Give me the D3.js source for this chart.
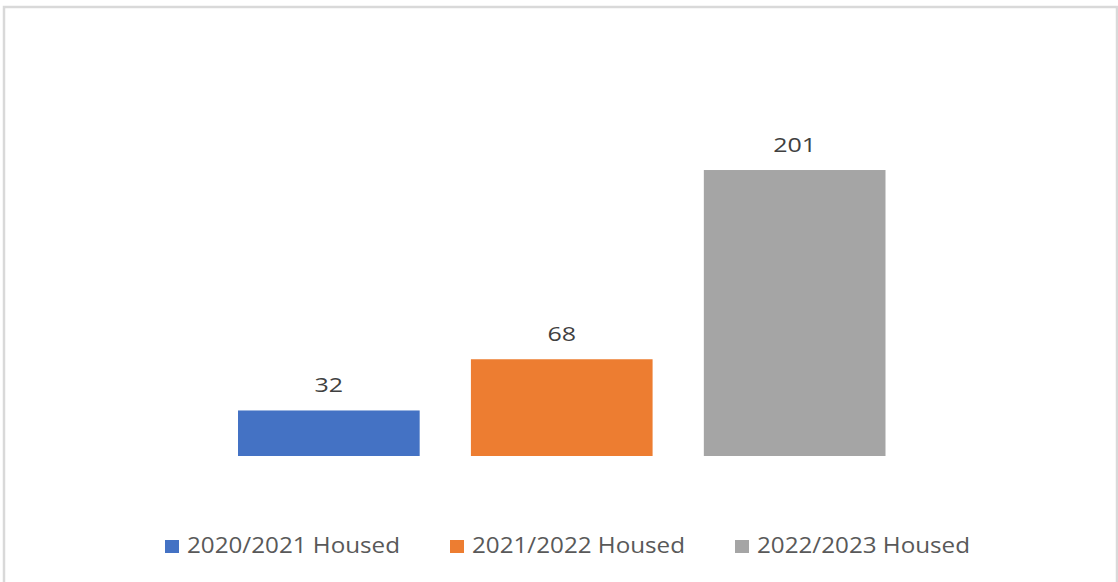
<!DOCTYPE html>
<html>
<head>
<meta charset="utf-8">
<script src="https://cdn.jsdelivr.net/npm/d3@7"></script>
<style>
  html, body { margin: 0; padding: 0; background: #fff; }
  svg { display: block; font-family: "Open Sans", "Noto Sans", sans-serif; }
</style>
</head>
<body>
<div id="root"></div>
<script>
const w = 1118, h = 582

// data
const series = ["2020/2021 Housed", "2021/2022 Housed", "2022/2023 Housed"]
const values = [32, 68, 201]
const colors = ["#4472C4", "#ED7D31", "#A5A5A5"]

//scales
const x = d3.scaleBand()
    .domain(series)
    .range([238, 885.5])
    .paddingInner(0.22)
    .paddingOuter(0)

const y = d3.scaleLinear()
    .domain([0, 250])
    .range([456, 100.3])

const svg = d3.select("#root").append("svg")
    .attr("width", w)
    .attr("height", h)

// chart border
svg.append("rect")
    .attr("x", 4)
    .attr("y", 7)
    .attr("width", 1113)
    .attr("height", 590)
    .attr("fill", "none")
    .attr("stroke", "#d9d9d9")
    .attr("stroke-width", 2.5)

// bars
svg.selectAll("rect.bar")
    .data(values)
    .join("rect")
    .attr("class", "bar")
    .attr("x", (d, i) => x(series[i]))
    .attr("y", d => y(d))
    .attr("width", x.bandwidth())
    .attr("height", d => y(0) - y(d))
    .attr("fill", (d, i) => colors[i])

// value labels
svg.selectAll("text.value")
    .data(values)
    .join("text")
    .attr("class", "value")
    .attr("text-anchor", "middle")
    .attr("font-size", 20)
    .attr("fill", "#404040")
    .attr("x", (d, i) => x(series[i]) + x.bandwidth() / 2)
    .attr("y", d => y(d) - 18)
    .attr("textLength", d => String(d).length * 14.3)
    .attr("lengthAdjust", "spacingAndGlyphs")
    .text(d => d)

// legend
const legendX = [165, 450, 735]
const legend = svg.selectAll("g.legend")
    .data(series)
    .join("g")
    .attr("class", "legend")
    .attr("transform", (d, i) => `translate(${legendX[i]},0)`)

legend.append("rect")
    .attr("x", 0)
    .attr("y", 540)
    .attr("width", 14)
    .attr("height", 13)
    .attr("fill", (d, i) => colors[i])

legend.append("text")
    .attr("x", 22)
    .attr("y", 553)
    .attr("font-size", 21)
    .attr("fill", "#595959")
    .attr("textLength", 213)
    .attr("lengthAdjust", "spacingAndGlyphs")
    .text(d => d)
</script>
</body>
</html>
